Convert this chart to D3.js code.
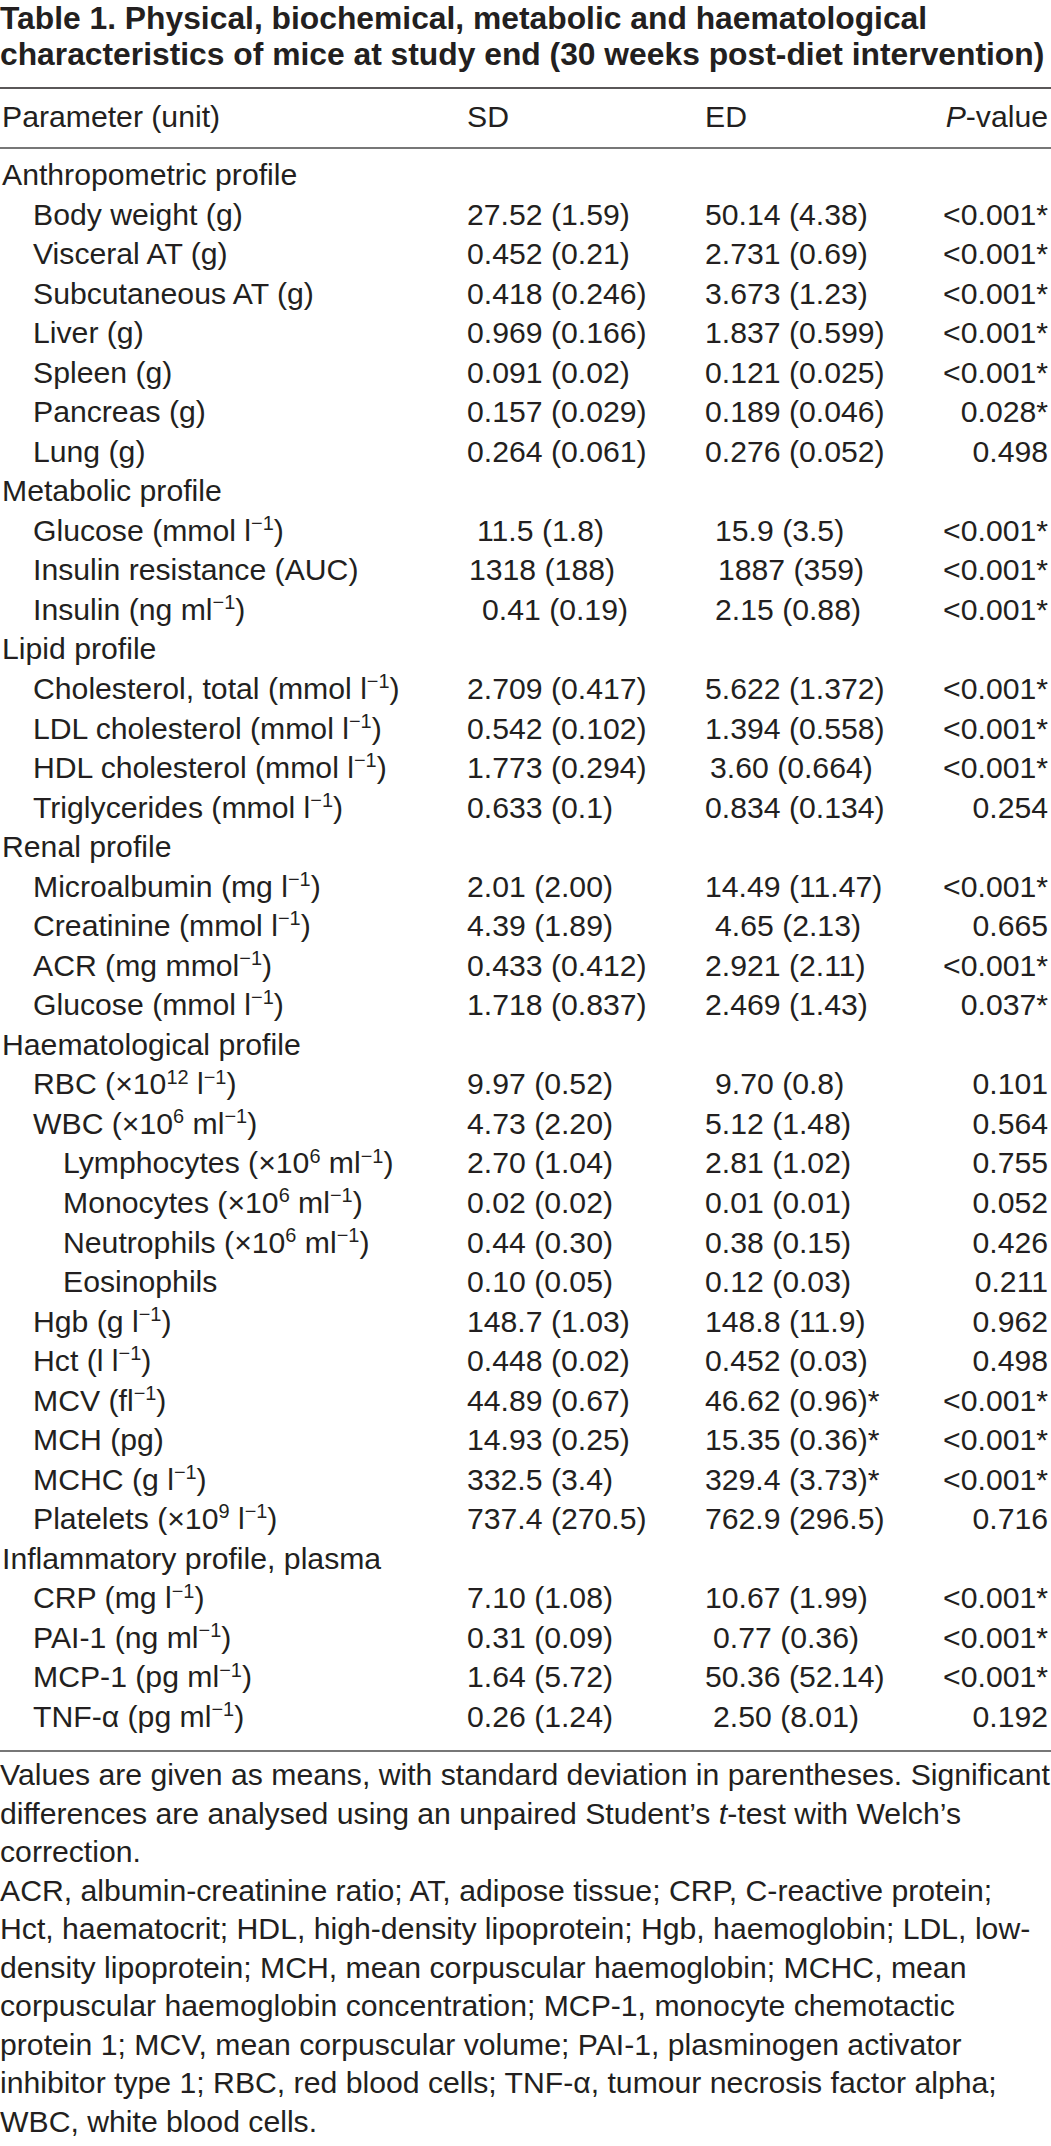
<!DOCTYPE html>
<html>
<head>
<meta charset="utf-8">
<script src="https://cdn.jsdelivr.net/npm/d3@7/dist/d3.min.js"></script>
<style>
  html, body { margin: 0; padding: 0; background: #ffffff; }
  svg { display: block; }
</style>
</head>
<body>
<script>
// ---------- DATA ----------
const titleLines = [
  "Table 1. Physical, biochemical, metabolic and haematological",
  "characteristics of mice at study end (30 weeks post-diet intervention)"
];
const columnHeaders = ["Parameter (unit)", "SD", "ED", "_P_-value"];

const parameters = [
  "Anthropometric profile",
  "Body weight (g)",
  "Visceral AT (g)",
  "Subcutaneous AT (g)",
  "Liver (g)",
  "Spleen (g)",
  "Pancreas (g)",
  "Lung (g)",
  "Metabolic profile",
  "Glucose (mmol l^{−1})",
  "Insulin resistance (AUC)",
  "Insulin (ng ml^{−1})",
  "Lipid profile",
  "Cholesterol, total (mmol l^{−1})",
  "LDL cholesterol (mmol l^{−1})",
  "HDL cholesterol (mmol l^{−1})",
  "Triglycerides (mmol l^{−1})",
  "Renal profile",
  "Microalbumin (mg l^{−1})",
  "Creatinine (mmol l^{−1})",
  "ACR (mg mmol^{−1})",
  "Glucose (mmol l^{−1})",
  "Haematological profile",
  "RBC (×10^{12} l^{−1})",
  "WBC (×10^{6} ml^{−1})",
  "Lymphocytes (×10^{6} ml^{−1})",
  "Monocytes (×10^{6} ml^{−1})",
  "Neutrophils (×10^{6} ml^{−1})",
  "Eosinophils",
  "Hgb (g l^{−1})",
  "Hct (l l^{−1})",
  "MCV (fl^{−1})",
  "MCH (pg)",
  "MCHC (g l^{−1})",
  "Platelets (×10^{9} l^{−1})",
  "Inflammatory profile, plasma",
  "CRP (mg l^{−1})",
  "PAI-1 (ng ml^{−1})",
  "MCP-1 (pg ml^{−1})",
  "TNF-α (pg ml^{−1})"
];
// 0 = section heading, 1 = parameter, 2 = sub-parameter
const levels = [0,1,1,1,1,1,1,1, 0,1,1,1, 0,1,1,1,1, 0,1,1,1,1, 0,1,1,2,2,2,2,1,1,1,1,1,1, 0,1,1,1,1];

const sdValues = [
  "", "27.52 (1.59)", "0.452 (0.21)", "0.418 (0.246)", "0.969 (0.166)", "0.091 (0.02)", "0.157 (0.029)", "0.264 (0.061)",
  "", "11.5 (1.8)", "1318 (188)", "0.41 (0.19)",
  "", "2.709 (0.417)", "0.542 (0.102)", "1.773 (0.294)", "0.633 (0.1)",
  "", "2.01 (2.00)", "4.39 (1.89)", "0.433 (0.412)", "1.718 (0.837)",
  "", "9.97 (0.52)", "4.73 (2.20)", "2.70 (1.04)", "0.02 (0.02)", "0.44 (0.30)", "0.10 (0.05)", "148.7 (1.03)", "0.448 (0.02)", "44.89 (0.67)", "14.93 (0.25)", "332.5 (3.4)", "737.4 (270.5)",
  "", "7.10 (1.08)", "0.31 (0.09)", "1.64 (5.72)", "0.26 (1.24)"
];
const edValues = [
  "", "50.14 (4.38)", "2.731 (0.69)", "3.673 (1.23)", "1.837 (0.599)", "0.121 (0.025)", "0.189 (0.046)", "0.276 (0.052)",
  "", "15.9 (3.5)", "1887 (359)", "2.15 (0.88)",
  "", "5.622 (1.372)", "1.394 (0.558)", "3.60 (0.664)", "0.834 (0.134)",
  "", "14.49 (11.47)", "4.65 (2.13)", "2.921 (2.11)", "2.469 (1.43)",
  "", "9.70 (0.8)", "5.12 (1.48)", "2.81 (1.02)", "0.01 (0.01)", "0.38 (0.15)", "0.12 (0.03)", "148.8 (11.9)", "0.452 (0.03)", "46.62 (0.96)*", "15.35 (0.36)*", "329.4 (3.73)*", "762.9 (296.5)",
  "", "10.67 (1.99)", "0.77 (0.36)", "50.36 (52.14)", "2.50 (8.01)"
];
const pValues = [
  "", "<0.001*", "<0.001*", "<0.001*", "<0.001*", "<0.001*", "0.028*", "0.498",
  "", "<0.001*", "<0.001*", "<0.001*",
  "", "<0.001*", "<0.001*", "<0.001*", "0.254",
  "", "<0.001*", "0.665", "<0.001*", "0.037*",
  "", "0.101", "0.564", "0.755", "0.052", "0.426", "0.211", "0.962", "0.498", "<0.001*", "<0.001*", "<0.001*", "0.716",
  "", "<0.001*", "<0.001*", "<0.001*", "0.192"
];

const footnoteLines = [
  "Values are given as means, with standard deviation in parentheses. Significant",
  "differences are analysed using an unpaired Student’s _t_-test with Welch’s",
  "correction.",
  "ACR, albumin-creatinine ratio; AT, adipose tissue; CRP, C-reactive protein;",
  "Hct, haematocrit; HDL, high-density lipoprotein; Hgb, haemoglobin; LDL, low-",
  "density lipoprotein; MCH, mean corpuscular haemoglobin; MCHC, mean",
  "corpuscular haemoglobin concentration; MCP-1, monocyte chemotactic",
  "protein 1; MCV, mean corpuscular volume; PAI-1, plasminogen activator",
  "inhibitor type 1; RBC, red blood cells; TNF-α, tumour necrosis factor alpha;",
  "WBC, white blood cells."
];

// ---------- LAYOUT ----------
const W = 1051, H = 2146;
const FONT = "'Liberation Sans', Arial, Helvetica, sans-serif";
const INK = "#231f20";
const FS = 30.2;
// small typesetting nudges (px) of some value cells, keyed by row index
const nudge = {
  sd: {9: 10, 10: 2, 11: 15},
  ed: {9: 10, 10: 13, 11: 10, 15: 5, 19: 10, 23: 10, 37: 8, 39: 8}
};

const svg = d3.select("body").append("svg")
  .attr("width", W).attr("height", H)
  .attr("viewBox", `0 0 ${W} ${H}`)
  .style("font-family", FONT)
  .style("fill", INK);

// rich text: ^{..} superscript, _.._ italic
function rich(sel, str, size) {
  const re = /(\^\{[^}]*\})|(_[^_]+_)/g;
  let last = 0, m, raised = false;
  const parts = [];
  while ((m = re.exec(str)) !== null) {
    if (m.index > last) parts.push({t: str.slice(last, m.index), k: "n"});
    if (m[1]) parts.push({t: m[1].slice(2, -1), k: "sup"});
    else parts.push({t: m[2].slice(1, -1), k: "it"});
    last = re.lastIndex;
  }
  if (last < str.length) parts.push({t: str.slice(last), k: "n"});
  const shift = size * 0.36;
  parts.forEach(p => {
    const ts = sel.append("tspan").text(p.t);
    if (p.k === "sup") {
      ts.attr("font-size", size * 0.66).attr("dy", raised ? 0 : -shift);
      raised = true;
    } else {
      if (raised) { ts.attr("dy", shift); raised = false; }
      if (p.k === "it") ts.attr("font-style", "italic");
    }
  });
}

// Title
const titleY = d3.scalePoint().domain(d3.range(titleLines.length)).range([29, 65]);
svg.append("g").selectAll("text").data(titleLines).join("text")
  .attr("x", 0).attr("y", (d, i) => titleY(i))
  .attr("font-size", 31.8).attr("font-weight", "bold")
  .text(d => d);

// Rules
const rules = [88, 148, 1751];
svg.append("g").selectAll("line").data(rules).join("line")
  .attr("x1", 0).attr("x2", W).attr("y1", d => d).attr("y2", d => d)
  .attr("stroke", (d, i) => i === 0 ? "#231f20" : "#4a4a4a")
  .attr("stroke-width", 1.6);

// Column scale
const colX = d3.scaleOrdinal().domain(["param", "sd", "ed", "p"]).range([2, 467, 705, 1048]);
const colAnchor = {param: "start", sd: "start", ed: "start", p: "end"};

// Header
const header = svg.append("g");
["param", "sd", "ed", "p"].forEach((c, i) => {
  const t = header.append("text")
    .attr("x", colX(c)).attr("y", 126.5)
    .attr("text-anchor", colAnchor[c])
    .attr("font-size", FS);
  rich(t, columnHeaders[i], FS);
});

// Rows
const rowY = d3.scalePoint().domain(d3.range(parameters.length)).range([185, 1727]);
const indent = d3.scaleOrdinal().domain([0, 1, 2]).range([2, 33, 63]);

const rowsG = svg.append("g");
parameters.forEach((name, i) => {
  const y = rowY(i);
  const t = rowsG.append("text").attr("x", indent(levels[i])).attr("y", y).attr("font-size", FS);
  rich(t, name, FS);
  if (sdValues[i]) rowsG.append("text").attr("x", colX("sd") + (nudge.sd[i] || 0)).attr("y", y).attr("font-size", FS).text(sdValues[i]);
  if (edValues[i]) rowsG.append("text").attr("x", colX("ed") + (nudge.ed[i] || 0)).attr("y", y).attr("font-size", FS).text(edValues[i]);
  if (pValues[i]) rowsG.append("text").attr("x", colX("p")).attr("y", y).attr("text-anchor", "end").attr("font-size", FS).text(pValues[i]);
});

// Footnotes
const footY = d3.scalePoint().domain(d3.range(footnoteLines.length)).range([1785, 2132]);
const footG = svg.append("g");
footnoteLines.forEach((line, i) => {
  const t = footG.append("text").attr("x", 0).attr("y", footY(i)).attr("font-size", FS);
  rich(t, line, FS);
});
</script>
</body>
</html>
